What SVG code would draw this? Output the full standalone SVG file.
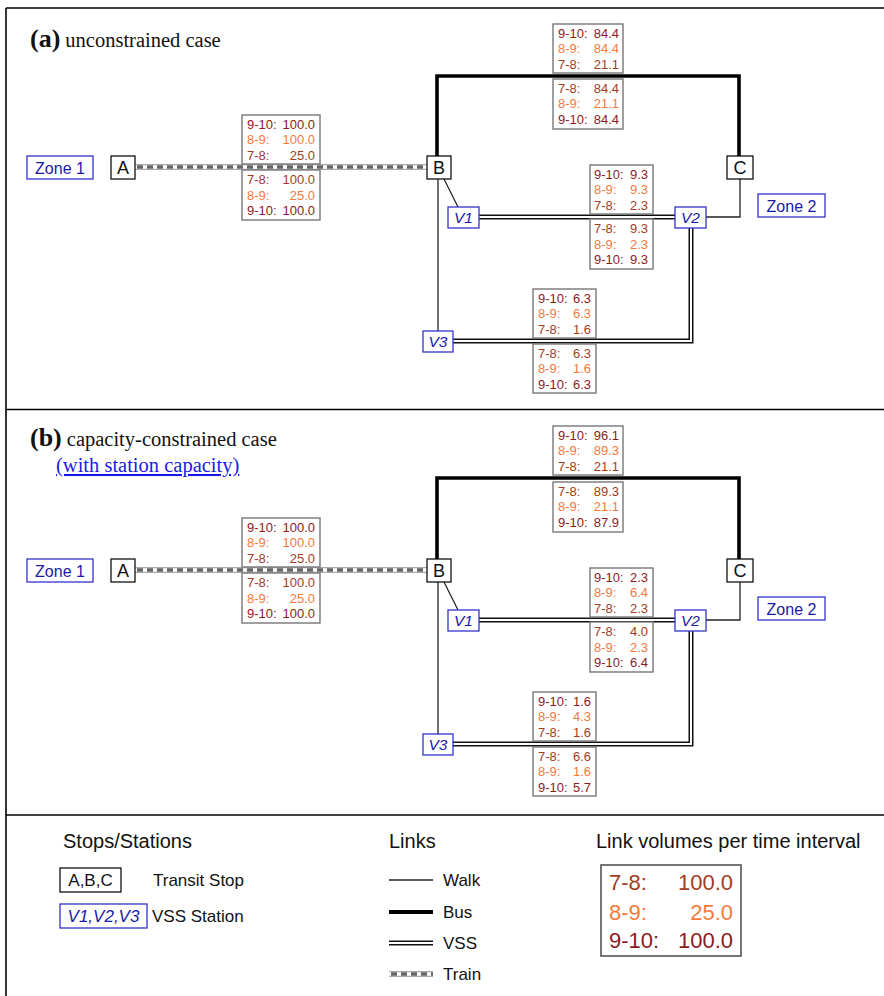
<svg xmlns="http://www.w3.org/2000/svg" width="884" height="996" viewBox="0 0 884 996">
<defs>
<style>
.frame{stroke:#000;stroke-width:1.6;fill:none}
.stop{fill:#fff;stroke:#111;stroke-width:1.3}
.vss{fill:#fff;stroke:#3333cc;stroke-width:1.3}
.zone{fill:#fff;stroke:#3333cc;stroke-width:1.3}
.lbl{fill:#fff;stroke:#777;stroke-width:1.4}
.stxt{font-family:"Liberation Sans",Arial,sans-serif;font-size:18px;fill:#111;text-anchor:middle}
.vtxt{font-family:"Liberation Sans",Arial,sans-serif;font-size:15.5px;font-style:italic;fill:#1a1aa6;text-anchor:middle}
.ztxt{font-family:"Liberation Sans",Arial,sans-serif;font-size:16px;fill:#1a1aa6;text-anchor:middle}
.t{font-family:"Liberation Sans",Arial,sans-serif;font-size:13px}
.v{text-anchor:end}
.c78{fill:#a43c1e}
.c89{fill:#f47a3c}
.c910{fill:#8c1a1e}
.walk{stroke:#222;stroke-width:1.3;fill:none}
.bus{stroke:#000;stroke-width:3.6;fill:none;stroke-linejoin:miter}
.vssO{stroke:#111;stroke-width:5;fill:none;stroke-linejoin:miter}
.vssI{stroke:#fff;stroke-width:2;fill:none;stroke-linejoin:miter}
.trO{stroke:#aaa;stroke-width:6;fill:none}
.trI{stroke:#fff;stroke-width:3.4;fill:none}
.trD{stroke:#666;stroke-width:3.4;fill:none;stroke-dasharray:6 4}
.title{font-family:"Liberation Serif","Times New Roman",serif;font-size:20.5px;fill:#111}
.tb{font-family:"Liberation Serif","Times New Roman",serif;font-size:26px;font-weight:bold;fill:#111}
.leg{font-family:"Liberation Sans",Arial,sans-serif;font-size:17px;fill:#111}
.legh{font-family:"Liberation Sans",Arial,sans-serif;font-size:20px;fill:#111}
.big{font-family:"Liberation Sans",Arial,sans-serif;font-size:22px}
</style>
</defs>
<rect x="0" y="0" width="884" height="996" fill="#fff"/>
<g id="frame">
<line class="frame" x1="6" y1="8" x2="884" y2="8"/>
<line class="frame" x1="6" y1="8" x2="6" y2="996"/>
<line class="frame" x1="6" y1="409.5" x2="884" y2="409.5"/>
<line class="frame" x1="6" y1="815" x2="884" y2="815"/>
</g>

<g id="title-a">
<text x="30" y="47"><tspan class="tb">(a)</tspan><tspan class="title" dx="5">unconstrained case</tspan></text>
</g>
<g id="title-b">
<text x="30" y="446"><tspan class="tb">(b)</tspan><tspan class="title" dx="5">capacity-constrained case</tspan></text>
<text x="56" y="472" class="title" style="fill:#1a1ae6;text-decoration:underline">(with station capacity)</text>
</g>

<!-- PANEL A -->
<g id="panel-a">
<g id="connectors-a">
<path class="bus" d="M437,156 V76 H739 V156"/>
<line class="trO" x1="135" y1="167" x2="427" y2="167"/>
<line class="trI" x1="135" y1="167" x2="427" y2="167"/>
<line class="trD" x1="137" y1="167" x2="427" y2="167"/>
<line class="walk" x1="444" y1="179" x2="458" y2="207"/>
<line class="walk" x1="438" y1="179" x2="438" y2="331"/>
<path class="walk" d="M740,179 V217 H706"/>
<line class="vssO" x1="479" y1="217" x2="675" y2="217"/>
<line class="vssI" x1="479" y1="217" x2="675" y2="217"/>
<path class="vssO" d="M691,228 V341 H453"/>
<path class="vssI" d="M691,228 V341 H453"/>
</g>
<g id="zone1-a"><rect class="zone" x="27" y="156" width="66" height="23"/><text class="ztxt" x="60" y="173.5">Zone 1</text></g>
<g id="A-a"><rect class="stop" x="111" y="156" width="24" height="23"/><text class="stxt" x="123" y="174">A</text></g>
<g id="B-a"><rect class="stop" x="427" y="156" width="24" height="23"/><text class="stxt" x="439" y="174">B</text></g>
<g id="C-a"><rect class="stop" x="727" y="156" width="26" height="23"/><text class="stxt" x="740" y="174">C</text></g>
<g id="zone2-a"><rect class="zone" x="758" y="194" width="67" height="23"/><text class="ztxt" x="791.5" y="211.5">Zone 2</text></g>
<g id="V1-a"><rect class="vss" x="448" y="207" width="31" height="21"/><text class="vtxt" x="463.5" y="223">V1</text></g>
<g id="V2-a"><rect class="vss" x="675" y="207" width="31" height="21"/><text class="vtxt" x="690.5" y="223">V2</text></g>
<g id="V3-a"><rect class="vss" x="423" y="331" width="30" height="21"/><text class="vtxt" x="438" y="347">V3</text></g>

<g id="labels-a" class="t">
<g id="train-top-a"><rect class="lbl" x="242" y="115" width="78" height="49"/>
<text class="c910" x="247" y="128.5">9-10:</text><text class="c910 v" x="315" y="128.5">100.0</text>
<text class="c89" x="247" y="144">8-9:</text><text class="c89 v" x="315" y="144">100.0</text>
<text class="c78" x="247" y="159.5">7-8:</text><text class="c78 v" x="315" y="159.5">25.0</text></g>
<g id="train-bot-a"><rect class="lbl" x="242" y="170" width="78" height="50"/>
<text class="c78" x="247" y="184">7-8:</text><text class="c78 v" x="315" y="184">100.0</text>
<text class="c89" x="247" y="199.5">8-9:</text><text class="c89 v" x="315" y="199.5">25.0</text>
<text class="c910" x="247" y="215">9-10:</text><text class="c910 v" x="315" y="215">100.0</text></g>

<g id="bus-top-a"><rect class="lbl" x="553" y="24" width="70" height="49"/>
<text class="c910" x="558" y="37.5">9-10:</text><text class="c910 v" x="619" y="37.5">84.4</text>
<text class="c89" x="558" y="53">8-9:</text><text class="c89 v" x="619" y="53">84.4</text>
<text class="c78" x="558" y="68.5">7-8:</text><text class="c78 v" x="619" y="68.5">21.1</text></g>
<g id="bus-bot-a"><rect class="lbl" x="553" y="79" width="70" height="50"/>
<text class="c78" x="558" y="92.5">7-8:</text><text class="c78 v" x="619" y="92.5">84.4</text>
<text class="c89" x="558" y="108">8-9:</text><text class="c89 v" x="619" y="108">21.1</text>
<text class="c910" x="558" y="123.5">9-10:</text><text class="c910 v" x="619" y="123.5">84.4</text></g>

<g id="v12-top-a"><rect class="lbl" x="590" y="165" width="63" height="49"/>
<text class="c910" x="594" y="178.5">9-10:</text><text class="c910 v" x="648" y="178.5">9.3</text>
<text class="c89" x="594" y="194">8-9:</text><text class="c89 v" x="648" y="194">9.3</text>
<text class="c78" x="594" y="209.5">7-8:</text><text class="c78 v" x="648" y="209.5">2.3</text></g>
<g id="v12-bot-a"><rect class="lbl" x="590" y="219" width="63" height="50"/>
<text class="c78" x="594" y="233">7-8:</text><text class="c78 v" x="648" y="233">9.3</text>
<text class="c89" x="594" y="248.5">8-9:</text><text class="c89 v" x="648" y="248.5">2.3</text>
<text class="c910" x="594" y="264">9-10:</text><text class="c910 v" x="648" y="264">9.3</text></g>

<g id="v23-top-a"><rect class="lbl" x="533" y="289" width="63" height="49"/>
<text class="c910" x="538" y="302.5">9-10:</text><text class="c910 v" x="591" y="302.5">6.3</text>
<text class="c89" x="538" y="318">8-9:</text><text class="c89 v" x="591" y="318">6.3</text>
<text class="c78" x="538" y="333.5">7-8:</text><text class="c78 v" x="591" y="333.5">1.6</text></g>
<g id="v23-bot-a"><rect class="lbl" x="533" y="344" width="63" height="49"/>
<text class="c78" x="538" y="357.5">7-8:</text><text class="c78 v" x="591" y="357.5">6.3</text>
<text class="c89" x="538" y="373">8-9:</text><text class="c89 v" x="591" y="373">1.6</text>
<text class="c910" x="538" y="388.5">9-10:</text><text class="c910 v" x="591" y="388.5">6.3</text></g>
</g>
</g>

<!-- PANEL B -->
<g id="panel-b" transform="translate(0,403)">
<g id="connectors-b">
<path class="bus" d="M437,156 V75 H739 V156"/>
<line class="trO" x1="135" y1="167" x2="427" y2="167"/>
<line class="trI" x1="135" y1="167" x2="427" y2="167"/>
<line class="trD" x1="137" y1="167" x2="427" y2="167"/>
<line class="walk" x1="444" y1="179" x2="458" y2="207"/>
<line class="walk" x1="438" y1="179" x2="438" y2="331"/>
<path class="walk" d="M740,179 V217 H706"/>
<line class="vssO" x1="479" y1="217" x2="675" y2="217"/>
<line class="vssI" x1="479" y1="217" x2="675" y2="217"/>
<path class="vssO" d="M691,228 V341 H453"/>
<path class="vssI" d="M691,228 V341 H453"/>
</g>
<g id="zone1-b"><rect class="zone" x="27" y="156" width="66" height="23"/><text class="ztxt" x="60" y="173.5">Zone 1</text></g>
<g id="A-b"><rect class="stop" x="111" y="156" width="24" height="23"/><text class="stxt" x="123" y="174">A</text></g>
<g id="B-b"><rect class="stop" x="427" y="156" width="24" height="23"/><text class="stxt" x="439" y="174">B</text></g>
<g id="C-b"><rect class="stop" x="727" y="156" width="26" height="23"/><text class="stxt" x="740" y="174">C</text></g>
<g id="zone2-b"><rect class="zone" x="758" y="194" width="67" height="23"/><text class="ztxt" x="791.5" y="211.5">Zone 2</text></g>
<g id="V1-b"><rect class="vss" x="448" y="207" width="31" height="21"/><text class="vtxt" x="463.5" y="223">V1</text></g>
<g id="V2-b"><rect class="vss" x="675" y="207" width="31" height="21"/><text class="vtxt" x="690.5" y="223">V2</text></g>
<g id="V3-b"><rect class="vss" x="423" y="331" width="30" height="21"/><text class="vtxt" x="438" y="347">V3</text></g>

<g id="labels-b" class="t">
<g id="train-top-b"><rect class="lbl" x="242" y="115" width="78" height="49"/>
<text class="c910" x="247" y="128.5">9-10:</text><text class="c910 v" x="315" y="128.5">100.0</text>
<text class="c89" x="247" y="144">8-9:</text><text class="c89 v" x="315" y="144">100.0</text>
<text class="c78" x="247" y="159.5">7-8:</text><text class="c78 v" x="315" y="159.5">25.0</text></g>
<g id="train-bot-b"><rect class="lbl" x="242" y="170" width="78" height="50"/>
<text class="c78" x="247" y="184">7-8:</text><text class="c78 v" x="315" y="184">100.0</text>
<text class="c89" x="247" y="199.5">8-9:</text><text class="c89 v" x="315" y="199.5">25.0</text>
<text class="c910" x="247" y="215">9-10:</text><text class="c910 v" x="315" y="215">100.0</text></g>

<g id="bus-top-b"><rect class="lbl" x="553" y="23" width="70" height="49"/>
<text class="c910" x="558" y="36.5">9-10:</text><text class="c910 v" x="619" y="36.5">96.1</text>
<text class="c89" x="558" y="52">8-9:</text><text class="c89 v" x="619" y="52">89.3</text>
<text class="c78" x="558" y="67.5">7-8:</text><text class="c78 v" x="619" y="67.5">21.1</text></g>
<g id="bus-bot-b"><rect class="lbl" x="553" y="79" width="70" height="50"/>
<text class="c78" x="558" y="92.5">7-8:</text><text class="c78 v" x="619" y="92.5">89.3</text>
<text class="c89" x="558" y="108">8-9:</text><text class="c89 v" x="619" y="108">21.1</text>
<text class="c910" x="558" y="123.5">9-10:</text><text class="c910 v" x="619" y="123.5">87.9</text></g>

<g id="v12-top-b"><rect class="lbl" x="590" y="165" width="63" height="49"/>
<text class="c910" x="594" y="178.5">9-10:</text><text class="c910 v" x="648" y="178.5">2.3</text>
<text class="c89" x="594" y="194">8-9:</text><text class="c89 v" x="648" y="194">6.4</text>
<text class="c78" x="594" y="209.5">7-8:</text><text class="c78 v" x="648" y="209.5">2.3</text></g>
<g id="v12-bot-b"><rect class="lbl" x="590" y="219" width="63" height="50"/>
<text class="c78" x="594" y="233">7-8:</text><text class="c78 v" x="648" y="233">4.0</text>
<text class="c89" x="594" y="248.5">8-9:</text><text class="c89 v" x="648" y="248.5">2.3</text>
<text class="c910" x="594" y="264">9-10:</text><text class="c910 v" x="648" y="264">6.4</text></g>

<g id="v23-top-b"><rect class="lbl" x="533" y="289" width="63" height="49"/>
<text class="c910" x="538" y="302.5">9-10:</text><text class="c910 v" x="591" y="302.5">1.6</text>
<text class="c89" x="538" y="318">8-9:</text><text class="c89 v" x="591" y="318">4.3</text>
<text class="c78" x="538" y="333.5">7-8:</text><text class="c78 v" x="591" y="333.5">1.6</text></g>
<g id="v23-bot-b"><rect class="lbl" x="533" y="344" width="63" height="49"/>
<text class="c78" x="538" y="357.5">7-8:</text><text class="c78 v" x="591" y="357.5">6.6</text>
<text class="c89" x="538" y="373">8-9:</text><text class="c89 v" x="591" y="373">1.6</text>
<text class="c910" x="538" y="388.5">9-10:</text><text class="c910 v" x="591" y="388.5">5.7</text></g>
</g>
</g>

<!-- LEGEND -->
<g id="legend">
<text class="legh" x="63" y="848">Stops/Stations</text>
<g id="leg-stop"><rect class="stop" x="60" y="868" width="61" height="24"/><text class="stxt" style="font-size:17px" x="90.5" y="886">A,B,C</text></g>
<text class="leg" x="153" y="886">Transit Stop</text>
<g id="leg-vss"><rect class="vss" x="60" y="904" width="87" height="24"/><text class="vtxt" style="font-size:17px" x="103.5" y="922">V1,V2,V3</text></g>
<text class="leg" x="152" y="922">VSS Station</text>

<text class="legh" x="389" y="848">Links</text>
<line class="walk" x1="389" y1="880" x2="433" y2="880"/>
<text class="leg" x="443" y="886">Walk</text>
<line class="bus" style="stroke-width:4" x1="389" y1="912" x2="433" y2="912"/>
<text class="leg" x="443" y="918">Bus</text>
<line class="vssO" x1="389" y1="943" x2="433" y2="943"/>
<line class="vssI" x1="389" y1="943" x2="433" y2="943"/>
<text class="leg" x="443" y="949">VSS</text>
<line class="trO" x1="389" y1="974" x2="433" y2="974"/>
<line class="trI" x1="389" y1="974" x2="433" y2="974"/>
<line class="trD" x1="391" y1="974" x2="433" y2="974"/>
<text class="leg" x="443" y="980">Train</text>

<text class="legh" x="596" y="848">Link volumes per time interval</text>
<g id="leg-vol" class="big"><rect class="lbl" style="stroke:#555;stroke-width:1.6" x="601" y="865" width="140" height="91"/>
<text class="c78" x="609" y="890">7-8:</text><text class="c78 v" x="733" y="890">100.0</text>
<text class="c89" x="609" y="920">8-9:</text><text class="c89 v" x="733" y="920">25.0</text>
<text class="c910" x="609" y="948">9-10:</text><text class="c910 v" x="733" y="948">100.0</text></g>
</g>
</svg>
